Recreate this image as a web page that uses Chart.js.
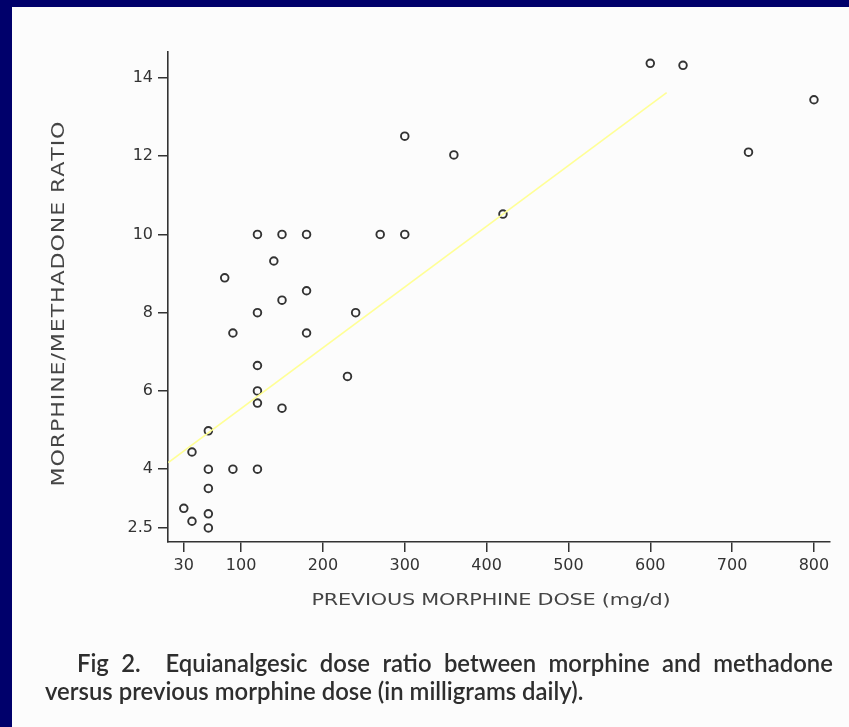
<!DOCTYPE html>
<html>
<head>
<meta charset="utf-8">
<script src="https://cdn.jsdelivr.net/npm/chart.js@4.4.1/dist/chart.umd.min.js"></script>
<style>
  html, body { margin: 0; padding: 0; }
  body { width: 849px; height: 727px; background: #00006b; position: relative; overflow: hidden; }
  #panel { position: absolute; left: 12px; top: 7px; right: 0; bottom: 0; background: #fcfcfc; }
  #chart { position: absolute; left: 0; top: 0; }
  .cap { position: absolute; font: 600 24px Lato, "Open Sans", sans-serif; line-height: 28px;
         white-space: nowrap; color: #2e2e2e; transform-origin: 0 0; }
</style>
</head>
<body>
<div id="panel"></div>
<canvas id="chart" width="849" height="727"></canvas>
<div id="cap1" class="cap" style="left:77px;top:649px">Fig 2.&nbsp; Equianalgesic dose ratio between morphine and methadone</div>
<div id="cap2" class="cap" style="left:45px;top:677px">versus previous morphine dose (in milligrams daily).</div>
<script>
// values
const doseMg = [600, 640, 800, 720, 300, 360, 420, 120, 150, 180, 270, 300, 140, 80, 180, 150, 120, 240,
                90, 180, 120, 230, 120, 120, 150, 60, 40, 60, 90, 120, 60, 30, 40, 60, 60];
const doseRatio = [14.37, 14.32, 13.44, 12.1, 12.51, 12.03, 10.52, 10, 10, 10, 10, 10, 9.32, 8.89, 8.56, 8.32, 8, 8,
                   7.48, 7.48, 6.65, 6.37, 6.0, 5.69, 5.56, 4.98, 4.44, 4, 4, 4, 3.51, 3.0, 2.67, 2.86, 2.5];
// regression line end points
const fitX = [11, 620];
const fitY = [4.17, 13.62];

const xTicks = [30, 100, 200, 300, 400, 500, 600, 700, 800];
const yTicks = [2.5, 4, 6, 8, 10, 12, 14];

const xTitle = 'PREVIOUS MORPHINE DOSE (mg/d)';
const yTitle = 'MORPHINE/METHADONE RATIO';

const points = doseMg.map((x, i) => ({ x: x, y: doseRatio[i] }));
const fitLine = fitX.map((x, i) => ({ x: x, y: fitY[i] }));

// draws a string with wide glyphs spread over a given length
function spacedText(ctx, text, cx, cy, angle, span, stretch) {
  const chars = [...text];
  const widths = chars.map(c => ctx.measureText(c).width * stretch);
  const total = widths.reduce((a, b) => a + b, 0);
  const gap = (span - total) / (chars.length - 1);
  ctx.save();
  ctx.translate(cx, cy);
  ctx.rotate(angle);
  ctx.textAlign = 'left';
  ctx.textBaseline = 'middle';
  let x = -span / 2;
  chars.forEach((c, i) => {
    ctx.save();
    ctx.translate(x, 0);
    ctx.scale(stretch, 1);
    ctx.fillText(c, 0, 0);
    ctx.restore();
    x += widths[i] + gap;
  });
  ctx.restore();
}

const axisTitles = {
  id: 'axisTitles',
  afterDraw(chart) {
    const ctx = chart.ctx;
    ctx.save();
    ctx.fillStyle = '#444444';
    ctx.font = '16px "DejaVu Sans"';
    spacedText(ctx, xTitle, 491, 601, 0, 359, 1.3);
    ctx.font = '17px "DejaVu Sans"';
    spacedText(ctx, yTitle, 60, 304, -Math.PI / 2, 365, 1.3);
    ctx.restore();
  }
};

const tickFont = { family: '"DejaVu Sans"', size: 16 };
const ink = '#333333';

new Chart(document.getElementById('chart'), {
  type: 'scatter',
  data: {
    datasets: [
      {
        data: points,
        pointRadius: 3.8,
        pointBorderWidth: 1.9,
        borderColor: '#333333',
        backgroundColor: 'rgba(0,0,0,0)',
        order: 2
      },
      {
        data: fitLine,
        showLine: true,
        borderColor: '#ffff96',
        borderWidth: 1.6,
        pointRadius: 0,
        order: 1
      }
    ]
  },
  options: {
    responsive: false,
    devicePixelRatio: 1,
    animation: false,
    events: [],
    layout: { padding: { top: 52, right: 19, left: 0, bottom: 0 } },
    plugins: { legend: { display: false }, tooltip: { enabled: false } },
    scales: {
      x: {
        type: 'linear',
        min: 10.7,
        max: 819.6,
        afterBuildTicks: s => { s.ticks = xTicks.map(v => ({ value: v })); },
        afterFit: s => { s.height = 185; },
        grid: { drawOnChartArea: false, tickLength: 10, color: ink, lineWidth: 1.5 },
        border: { color: ink, width: 1.6 },
        ticks: { font: tickFont, color: ink, padding: 4, maxRotation: 0, autoSkip: false,
                 callback: v => String(v) }
      },
      y: {
        type: 'linear',
        min: 2.14,
        max: 14.66,
        afterBuildTicks: s => { s.ticks = yTicks.map(v => ({ value: v })); },
        afterFit: s => { s.width = 168; },
        grid: { drawOnChartArea: false, tickLength: 10, color: ink, lineWidth: 1.5 },
        border: { color: ink, width: 1.6 },
        ticks: { font: tickFont, color: ink, padding: 5, autoSkip: false,
                 callback: v => String(v) }
      }
    }
  },
  plugins: [axisTitles]
});

// caption: fit the second line, justify the first
const cap1 = document.getElementById('cap1');
const cap2 = document.getElementById('cap2');
const sx = 538 / cap2.offsetWidth;
cap2.style.transform = 'scaleX(' + sx + ')';
const gaps = cap1.textContent.split(/[ \u00a0]/).length - 1;
const extra = 756 / sx - cap1.offsetWidth;
cap1.style.wordSpacing = (extra / gaps) + 'px';
cap1.style.transform = 'scaleX(' + sx + ')';
</script>
</body>
</html>
